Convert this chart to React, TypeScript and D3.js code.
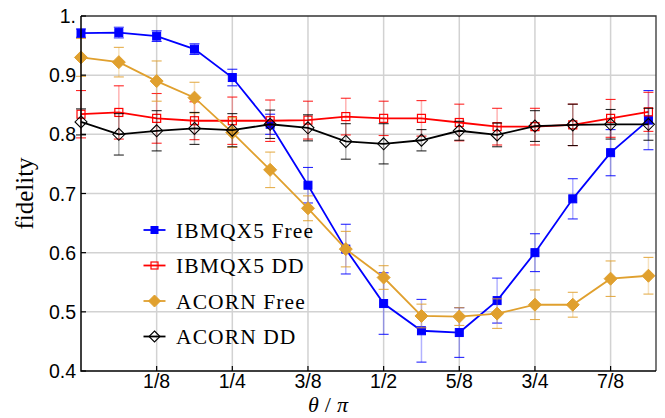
import React, { useEffect, useRef } from 'react';
import * as d3 from 'd3';

// theta / pi sample points
const thetas = [0, 1 / 16, 2 / 16, 3 / 16, 4 / 16, 5 / 16, 6 / 16, 7 / 16, 8 / 16, 9 / 16, 10 / 16, 11 / 16, 12 / 16, 13 / 16, 14 / 16, 15 / 16];

const ibmFree = [0.971, 0.972, 0.966, 0.944, 0.896, 0.817, 0.714, 0.606, 0.514, 0.468, 0.465, 0.519, 0.600, 0.691, 0.769, 0.824];
const ibmFreeErr = [0.007, 0.009, 0.009, 0.009, 0.014, 0.017, 0.03, 0.042, 0.052, 0.053, 0.042, 0.038, 0.032, 0.034, 0.039, 0.05];

const ibmDD = [0.834, 0.837, 0.827, 0.823, 0.823, 0.823, 0.824, 0.830, 0.827, 0.827, 0.820, 0.813, 0.813, 0.816, 0.827, 0.838];
const ibmDDErr = [0.04, 0.045, 0.042, 0.032, 0.04, 0.035, 0.032, 0.031, 0.029, 0.03, 0.031, 0.031, 0.031, 0.035, 0.032, 0.033];

const acornFree = [0.930, 0.922, 0.890, 0.862, 0.803, 0.740, 0.675, 0.606, 0.558, 0.493, 0.492, 0.497, 0.512, 0.512, 0.556, 0.561];
const acornFreeErr = [0.032, 0.025, 0.034, 0.026, 0.025, 0.03, 0.021, 0.03, 0.02, 0.02, 0.015, 0.025, 0.025, 0.021, 0.03, 0.031];

const acornDD = [0.821, 0.800, 0.806, 0.810, 0.807, 0.817, 0.811, 0.788, 0.784, 0.790, 0.806, 0.799, 0.814, 0.816, 0.817, 0.817];
const acornDDErr = [0.022, 0.035, 0.034, 0.027, 0.028, 0.024, 0.022, 0.03, 0.034, 0.018, 0.016, 0.02, 0.026, 0.035, 0.025, 0.027];

const xTicks = [1 / 8, 2 / 8, 3 / 8, 4 / 8, 5 / 8, 6 / 8, 7 / 8];
const xTickLabels = ['1/8', '1/4', '3/8', '1/2', '5/8', '3/4', '7/8'];
const yTicks = [0.4, 0.5, 0.6, 0.7, 0.8, 0.9, 1.0];
const yTickLabels = ['0.4', '0.5', '0.6', '0.7', '0.8', '0.9', '1.'];

const series = [
    { name: 'IBMQX5 Free', values: ibmFree, errors: ibmFreeErr, color: '#0000ff', marker: 'square', filled: true },
    { name: 'IBMQX5 DD', values: ibmDD, errors: ibmDDErr, color: '#ff0000', marker: 'square', filled: false },
    { name: 'ACORN Free', values: acornFree, errors: acornFreeErr, color: '#e0a02e', marker: 'diamond', filled: true },
    { name: 'ACORN DD', values: acornDD, errors: acornDDErr, color: '#000000', marker: 'diamond', filled: false },
];

const App = () => {
    const ref = useRef<SVGSVGElement>(null);

    useEffect(() => {
        const width = 665;
        const height = 418;
        const margin = { top: 16, right: 9, bottom: 47, left: 81 };

        const x = d3.scaleLinear().domain([0, 0.95]).range([margin.left, width - margin.right]);
        const y = d3.scaleLinear().domain([0.4, 1.0]).range([height - margin.bottom, margin.top]);

        const svg = d3.select(ref.current);
        svg.selectAll('*').remove();

        const gridColor = '#d2d2d2';
        const grid = svg.append('g');
        grid.selectAll('line.gx')
            .data(xTicks)
            .join('line')
            .attr('x1', d => x(d)).attr('x2', d => x(d))
            .attr('y1', y(0.4)).attr('y2', y(1.0))
            .attr('stroke', gridColor).attr('stroke-width', 1.5);
        grid.selectAll('line.gy')
            .data(yTicks.slice(1, -1))
            .join('line')
            .attr('class', 'gy')
            .attr('x1', x(0)).attr('x2', x(0.95))
            .attr('y1', d => y(d)).attr('y2', d => y(d))
            .attr('stroke', gridColor).attr('stroke-width', 1.5);

        const line = d3.line<number>()
            .x((_, i) => x(thetas[i]))
            .y(d => y(d));

        const diamond = (cx: number, cy: number, r: number) =>
            `M${cx},${cy - r}L${cx + r},${cy}L${cx},${cy + r}L${cx - r},${cy}Z`;

        const drawMarker = (g: any, s: any, cx: number, cy: number, legend: boolean) => {
            if (s.marker === 'square') {
                const side = legend ? 7 : 8;
                g.append('rect')
                    .attr('x', cx - side / 2).attr('y', cy - side / 2)
                    .attr('width', side).attr('height', side)
                    .attr('fill', s.filled ? s.color : 'none')
                    .attr('stroke', s.color).attr('stroke-width', s.filled ? 1 : 1.2);
            } else {
                const r = s.filled ? 6.5 : 6;
                g.append('path')
                    .attr('d', diamond(cx, cy, legend ? r - 0.5 : r))
                    .attr('fill', s.filled ? s.color : 'none')
                    .attr('stroke', s.color).attr('stroke-width', s.filled ? 1 : 1.1);
            }
        };

        const plot = svg.append('g');
        series.forEach(s => {
            const g = plot.append('g');
            // error bars
            s.values.forEach((v, i) => {
                const cx = x(thetas[i]);
                const top = y(v + s.errors[i]);
                const bot = y(v - s.errors[i]);
                g.append('line')
                    .attr('x1', cx).attr('x2', cx).attr('y1', top).attr('y2', bot)
                    .attr('stroke', s.color).attr('stroke-opacity', 0.3).attr('stroke-width', 1.5);
                [top, bot].forEach(cy => {
                    g.append('line')
                        .attr('x1', cx - 5).attr('x2', cx + 5).attr('y1', cy).attr('y2', cy)
                        .attr('stroke', s.color).attr('stroke-opacity', 0.85).attr('stroke-width', 1.1);
                });
            });
            g.append('path')
                .attr('d', line(s.values))
                .attr('fill', 'none')
                .attr('stroke', s.color)
                .attr('stroke-width', 1.8);
            s.values.forEach((v, i) => drawMarker(g, s, x(thetas[i]), y(v), false));
        });

        // frame
        const x0 = x(0), x1 = x(0.95), y0 = y(0.4), y1 = y(1.0);
        svg.append('path')
            .attr('d', `M${x0},${y1}L${x1},${y1}L${x1},${y0}`)
            .attr('fill', 'none').attr('stroke', '#333').attr('stroke-width', 1.3);
        svg.append('path')
            .attr('d', `M${x0},${y1}L${x0},${y0}L${x1},${y0}`)
            .attr('fill', 'none').attr('stroke', '#000').attr('stroke-width', 1.5);

        // ticks
        svg.append('g').selectAll('line')
            .data(yTicks)
            .join('line')
            .attr('x1', x0).attr('x2', x0 + 5)
            .attr('y1', d => y(d)).attr('y2', d => y(d))
            .attr('stroke', '#000').attr('stroke-width', 1.2);
        svg.append('g').selectAll('line')
            .data(xTicks)
            .join('line')
            .attr('x1', d => x(d)).attr('x2', d => x(d))
            .attr('y1', y0).attr('y2', y0 - 5)
            .attr('stroke', '#000').attr('stroke-width', 1.2);

        const sans = '"Liberation Sans", Arial, sans-serif';
        const serif = '"Liberation Serif", "Times New Roman", serif';

        svg.append('g')
            .attr('text-anchor', 'end')
            .selectAll('text')
            .data(yTicks)
            .join('text')
            .attr('x', x0 - 5)
            .attr('y', d => y(d) + 7)
            .style('font-family', sans)
            .style('font-size', '19.5px')
            .text((_, i) => yTickLabels[i]);

        svg.append('g')
            .attr('text-anchor', 'middle')
            .selectAll('text')
            .data(xTicks)
            .join('text')
            .attr('x', d => x(d))
            .attr('y', y0 + 17)
            .style('font-family', sans)
            .style('font-size', '19.5px')
            .text((_, i) => xTickLabels[i]);

        // axis labels
        svg.append('text')
            .attr('transform', `translate(33,${(y0 + y1) / 2}) rotate(-90)`)
            .attr('text-anchor', 'middle')
            .style('font-family', serif)
            .style('font-size', '25px')
            .text('fidelity');

        const xl = svg.append('text')
            .attr('x', 328).attr('y', 412)
            .attr('text-anchor', 'middle')
            .style('font-family', serif)
            .style('font-size', '22px');
        xl.append('tspan').style('font-style', 'italic').text('θ');
        xl.append('tspan').attr('dx', 6).text('/');
        xl.append('tspan').attr('dx', 6).style('font-style', 'italic').text('π');

        // legend
        const legend = svg.append('g');
        series.forEach((s, i) => {
            const ly = 230 + i * 35.5;
            const g = legend.append('g');
            g.append('line')
                .attr('x1', 143.5).attr('x2', 165.5).attr('y1', ly).attr('y2', ly)
                .attr('stroke', s.color).attr('stroke-width', 1.8);
            drawMarker(g, s, 154.5, ly, true);
            g.append('text')
                .attr('x', 176).attr('y', ly + 7.5)
                .style('font-family', serif)
                .style('font-size', '21.5px')
                .style('letter-spacing', '1.1px')
                .text(s.name);
        });
    }, []);

    return (
        <svg
            ref={ref}
            width={665}
            height={418}
            style={{ position: 'absolute', left: 0, top: 0, background: '#fff' }}
        />
    );
};

export default App;
